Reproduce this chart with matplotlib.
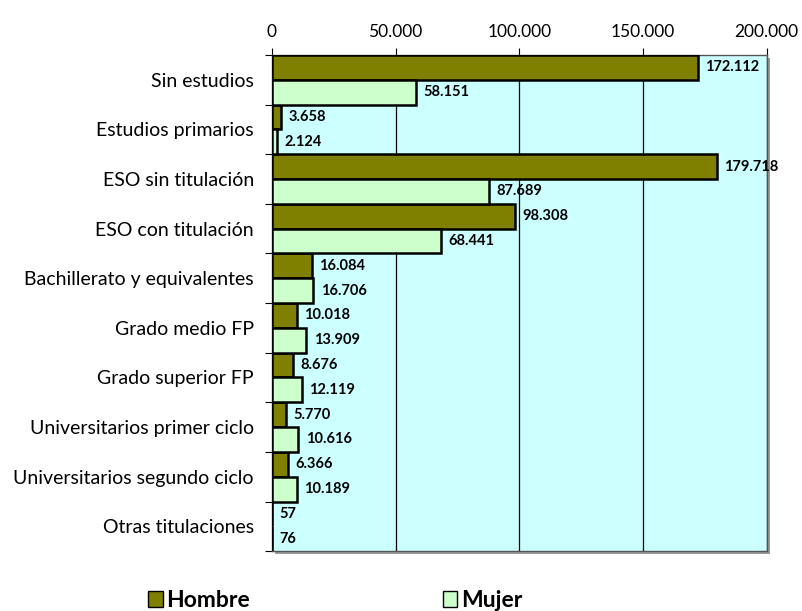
import matplotlib.pyplot as plt
import matplotlib.patches as mpatches
import matplotlib.ticker as ticker
import numpy as np

plt.rcParams['font.family'] = ['Lato', 'DejaVu Sans']

categorias = ['Sin estudios', 'Estudios primarios', 'ESO sin titulación',
              'ESO con titulación', 'Bachillerato y equivalentes', 'Grado medio FP',
              'Grado superior FP', 'Universitarios primer ciclo',
              'Universitarios segundo ciclo', 'Otras titulaciones']
hombre = [172112, 3658, 179718, 98308, 16084, 10018, 8676, 5770, 6366, 57]
mujer = [58151, 2124, 87689, 68441, 16706, 13909, 12119, 10616, 10189, 76]


def miles(v, pos=None):
    return '{:,.0f}'.format(v).replace(',', '.')


fig = plt.figure(figsize=(8.02, 6.11), dpi=100)
ax = fig.add_axes([0.339, 0.098, 0.617, 0.812])

# sombra del area de trazado
shadow = mpatches.Rectangle((0.343, 0.093), 0.617, 0.812, transform=fig.transFigure,
                            facecolor='#999999', edgecolor='none', zorder=-1)
fig.patches.append(shadow)

ax.set_facecolor('#CCFFFF')
y = np.arange(len(categorias))
h = 0.5
ax.barh(y - h / 2, hombre, height=h, color='#808000', edgecolor='black', linewidth=1.8, zorder=3)
ax.barh(y + h / 2, mujer, height=h, color='#CCFFCC', edgecolor='black', linewidth=1.8, zorder=3)

for i in range(len(categorias)):
    ax.text(hombre[i] + 3000, y[i] - h / 2, miles(hombre[i]), va='center', ha='left',
            fontsize=10.5, fontweight='bold', zorder=4, clip_on=False)
    ax.text(mujer[i] + 3000, y[i] + h / 2, miles(mujer[i]), va='center', ha='left',
            fontsize=10.5, fontweight='bold', zorder=4, clip_on=False)

ax.set_xlim(0, 200000)
ax.set_ylim(len(categorias) - 0.5, -0.5)
ax.xaxis.set_major_locator(ticker.MultipleLocator(50000))
ax.xaxis.set_major_formatter(ticker.FuncFormatter(miles))
ax.xaxis.tick_top()
ax.set_yticks(np.arange(len(categorias) + 1) - 0.5, minor=False)
ax.set_yticklabels([])
ax.set_yticks(y, minor=True)
ax.set_yticklabels(categorias, minor=True)
ax.tick_params(axis='y', which='minor', length=0, labelsize=14, pad=13)
ax.tick_params(axis='y', which='major', length=5, direction='out')
ax.tick_params(axis='x', labelsize=12.5, length=5, direction='out', pad=6)
ax.grid(axis='x', color='black', linewidth=0.9, zorder=1)
ax.set_axisbelow(True)
for s in ax.spines.values():
    s.set_color('#555555')
    s.set_linewidth(1)

handles = [mpatches.Patch(facecolor='#808000', edgecolor='black', label='Hombre'),
           mpatches.Patch(facecolor='#CCFFCC', edgecolor='black', label='Mujer')]
fig.legend(handles=handles, loc='lower left', bbox_to_anchor=(0.1845, 0.0), ncol=2,
           frameon=False, columnspacing=8.4, handlelength=0.65, handleheight=0.65,
           handletextpad=0.15, borderpad=0, borderaxespad=0,
           prop={'weight': 'bold', 'size': 16.5})

fig.savefig('out.png', dpi=100)
